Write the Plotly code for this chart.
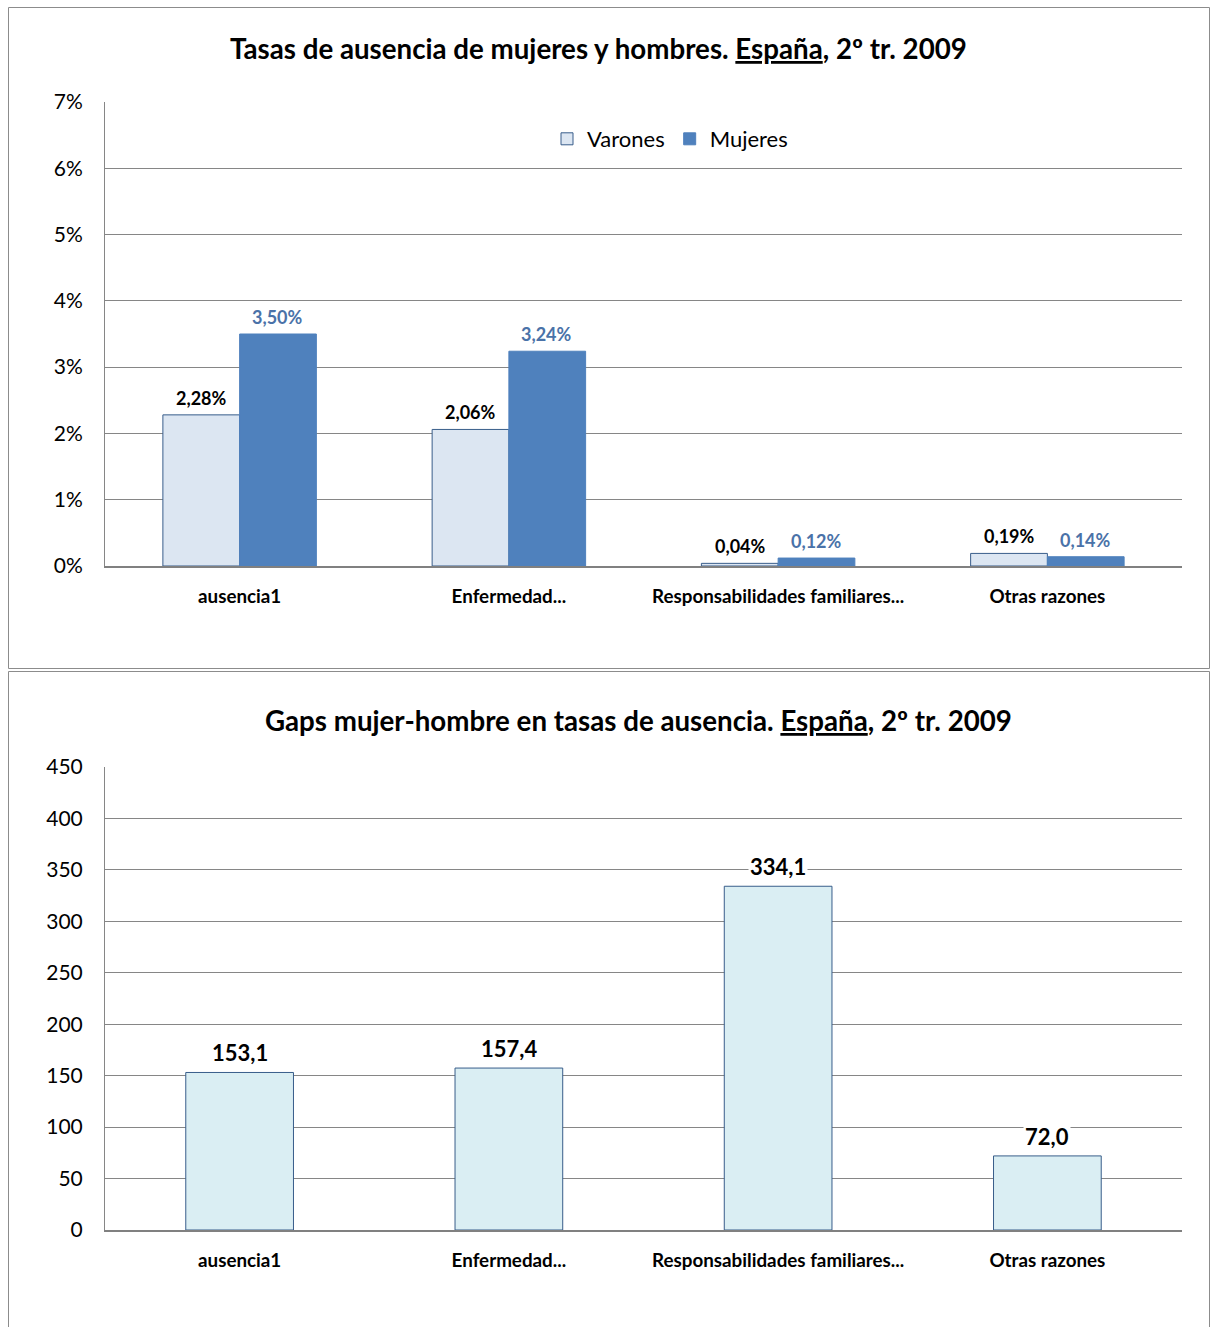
import plotly.graph_objects as go

# Absence rates by reason, Spain, Q2 2009
categorias = ["ausencia1", "Enfermedad...", "Responsabilidades familiares...", "Otras razones"]
varones_pct = [2.28, 2.06, 0.04, 0.19]
mujeres_pct = [3.50, 3.24, 0.12, 0.14]
gap_mujer_hombre = [153.1, 157.4, 334.1, 72.0]

W, H = 1210, 1327
FONT = "Lato"

def px_x(v):
    return v / W

def px_y(v):
    return 1 - v / H

varones = [v / 100 for v in varones_pct]
mujeres = [v / 100 for v in mujeres_pct]

fig = go.Figure()

fig.add_trace(go.Bar(
    x=categorias, y=varones, name="Varones",
    marker=dict(color="#DCE6F2", line=dict(color="#385D8A", width=1)),
    xaxis="x", yaxis="y",
))
fig.add_trace(go.Bar(
    x=categorias, y=mujeres, name="Mujeres",
    marker=dict(color="#4F81BD", line=dict(color="#4F81BD", width=1)),
    xaxis="x", yaxis="y",
))
fig.add_trace(go.Bar(
    x=categorias, y=gap_mujer_hombre, name="Gap", showlegend=False,
    width=0.4,
    marker=dict(color="#DAEEF3", line=dict(color="#385D8A", width=1)),
    xaxis="x2", yaxis="y2",
))

annotations = []
for c, v in zip(categorias, varones):
    annotations.append(dict(
        x=c, y=v, xref="x", yref="y", xshift=-38, yshift=4,
        text=f"{v*100:.2f}%".replace(".", ","), showarrow=False,
        yanchor="bottom", bgcolor="white",
        font=dict(family=FONT, size=18, color="black", weight="bold"),
    ))
for c, v in zip(categorias, mujeres):
    annotations.append(dict(
        x=c, y=v, xref="x", yref="y", xshift=38, yshift=4,
        text=f"{v*100:.2f}%".replace(".", ","), showarrow=False,
        yanchor="bottom", bgcolor="white",
        font=dict(family=FONT, size=18, color="#4A72A8", weight="bold"),
    ))
for c, v in zip(categorias, gap_mujer_hombre):
    annotations.append(dict(
        x=c, y=v, xref="x2", yref="y2", yshift=4,
        text=f"{v:.1f}".replace(".", ","), showarrow=False,
        yanchor="bottom", bgcolor="white",
        font=dict(family=FONT, size=22, color="black", weight="bold"),
    ))

annotations.append(dict(
    x=px_x(598), y=px_y(48), xref="paper", yref="paper",
    text="Tasas de ausencia de mujeres y hombres. <u>España</u>, 2º tr. 2009",
    showarrow=False, xanchor="center", yanchor="middle",
    font=dict(family=FONT, size=27.7, color="black", weight="bold"),
))
annotations.append(dict(
    x=px_x(638), y=px_y(720), xref="paper", yref="paper",
    text="Gaps mujer-hombre en tasas de ausencia. <u>España</u>, 2º tr. 2009",
    showarrow=False, xanchor="center", yanchor="middle",
    font=dict(family=FONT, size=27.7, color="black", weight="bold"),
))

shapes = [
    dict(type="rect", xref="paper", yref="paper",
         x0=px_x(8.5), x1=px_x(1209.5), y0=px_y(668.5), y1=px_y(7.5),
         line=dict(color="#8C8C8C", width=1)),
    dict(type="rect", xref="paper", yref="paper",
         x0=px_x(8.5), x1=px_x(1209.5), y0=px_y(1340), y1=px_y(671.5),
         line=dict(color="#8C8C8C", width=1)),
]

xdom = [px_x(105), px_x(1182)]
axis_font = dict(family=FONT, size=21, color="black")
cat_font = dict(family=FONT, size=18.8, color="black", weight="bold")

fig.update_layout(
    width=W, height=H,
    margin=dict(l=0, r=0, t=0, b=0, autoexpand=False),
    paper_bgcolor="white", plot_bgcolor="white",
    separators=",.",
    barmode="group", bargap=0.43, bargroupgap=0,
    showlegend=True,
    legend=dict(
        orientation="h", x=px_x(670), y=px_y(139), xanchor="center", yanchor="middle",
        font=dict(family=FONT, size=22, color="black"),
        itemwidth=30, tracegroupgap=0,
    ),
    xaxis=dict(
        domain=xdom, anchor="y", showgrid=False, automargin=False,
        showline=True, linecolor="#808080", linewidth=2,
        ticks="", tickfont=cat_font, ticklabelstandoff=12,
    ),
    yaxis=dict(
        domain=[px_y(566), px_y(102)], anchor="x", automargin=False,
        range=[0, 0.07], dtick=0.01, tickformat=".0%",
        showgrid=True, gridcolor="#868686", gridwidth=1,
        showline=True, linecolor="#868686", linewidth=1,
        zeroline=False, ticks="", tickfont=axis_font, ticklabelstandoff=17,
    ),
    xaxis2=dict(
        domain=xdom, anchor="y2", showgrid=False, automargin=False,
        showline=True, linecolor="#808080", linewidth=2,
        ticks="", tickfont=cat_font, ticklabelstandoff=12,
    ),
    yaxis2=dict(
        domain=[px_y(1230), px_y(767)], anchor="x2", automargin=False,
        range=[0, 450], dtick=50,
        showgrid=True, gridcolor="#868686", gridwidth=1,
        showline=True, linecolor="#868686", linewidth=1,
        zeroline=False, ticks="", tickfont=axis_font, ticklabelstandoff=17,
    ),
    annotations=annotations,
    shapes=shapes,
)

fig.write_html("out.html")
